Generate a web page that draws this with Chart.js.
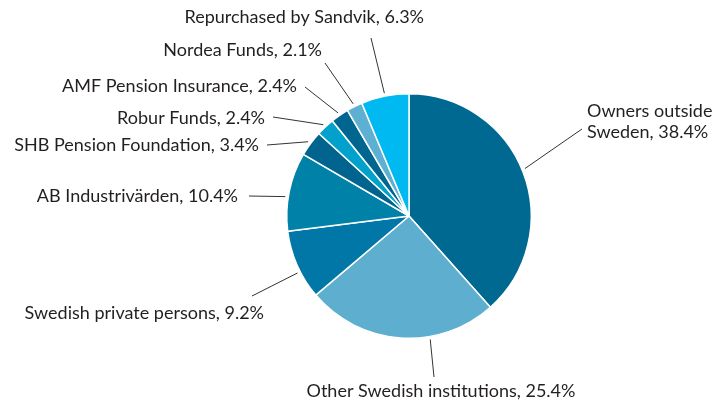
<!DOCTYPE html>
<html>
<head>
<meta charset="utf-8">
<script src="https://cdn.jsdelivr.net/npm/chart.js@4/dist/chart.umd.min.js"></script>
<style>
  html, body { margin: 0; padding: 0; background: #fff; }
  #wrap { width: 720px; height: 400px; }
</style>
</head>
<body>
<div id="wrap"><canvas id="ownersChart" width="720" height="400"></canvas></div>
<script>
// shareholders, clockwise from 12 o'clock
const owners = [
  ['Owners outside', 'Sweden, 38.4%'],
  'Other Swedish institutions, 25.4%',
  'Swedish private persons, 9.2%',
  'AB Industrivärden, 10.4%',
  'SHB Pension Foundation, 3.4%',
  'Robur Funds, 2.4%',
  'AMF Pension Insurance, 2.4%',
  'Nordea Funds, 2.1%',
  'Repurchased by Sandvik, 6.3%'
];
const shares = [38.4, 25.4, 9.2, 10.4, 3.4, 2.4, 2.4, 2.1, 6.3];
const sliceColors = ['#006991', '#5eaecf', '#0077a6', '#0082a8', '#00648e',
                     '#00a2cb', '#00658f', '#5eb0d2', '#00b9f0'];

// label text anchor, leader line end, and where on the slice the line starts (0..1)
const labelLayout = [
  { x: 587, y: 111, align: 'left',   ex: 582, ey: 129, at: 0.49 },
  { x: 441, y: 391, align: 'center', ex: 434, ey: 377, at: 0.35 },
  { x: 264, y: 313, align: 'right',  ex: 252, ey: 296, at: 0.4 },
  { x: 238, y: 196, align: 'right',  ex: 249, ey: 196, at: 0.43 },
  { x: 259, y: 145, align: 'right',  ex: 267, ey: 145, at: 0.5 },
  { x: 265, y: 118, align: 'right',  ex: 273, ey: 117, at: 0.5 },
  { x: 297, y: 86,  align: 'right',  ex: 305, ey: 87,  at: 0.5 },
  { x: 322, y: 50,  align: 'right',  ex: 325, ey: 63,  at: 0.5 },
  { x: 424, y: 17,  align: 'right',  ex: 371, ey: 38,  at: 0.5 }
];

const leaderLabels = {
  id: 'leaderLabels',
  afterDatasetsDraw(chart) {
    const ctx = chart.ctx;
    const arcs = chart.getDatasetMeta(0).data;
    ctx.save();
    ctx.strokeStyle = '#333333';
    ctx.lineWidth = 1;
    ctx.fillStyle = '#231f20';
    ctx.font = '18px Lato, "Open Sans", sans-serif';
    ctx.textBaseline = 'middle';
    arcs.forEach((arc, i) => {
      const p = arc.getProps(['x', 'y', 'startAngle', 'endAngle', 'outerRadius'], true);
      const l = labelLayout[i];
      const a = p.startAngle + (p.endAngle - p.startAngle) * l.at;
      const r = p.outerRadius + 3;
      ctx.beginPath();
      ctx.moveTo(p.x + Math.cos(a) * r, p.y + Math.sin(a) * r);
      ctx.lineTo(l.ex, l.ey);
      ctx.stroke();
      ctx.textAlign = l.align;
      const lines = Array.isArray(owners[i]) ? owners[i] : [owners[i]];
      lines.forEach((t, k) => ctx.fillText(t, l.x, l.y + k * 21));
    });
    ctx.restore();
  }
};

const ctx = document.getElementById('ownersChart').getContext('2d');
const ownersChart = new Chart(ctx, {
  type: 'pie',
  data: {
    labels: owners.map(o => Array.isArray(o) ? o.join(' ') : o),
    datasets: [{
      data: shares,
      backgroundColor: sliceColors,
      borderColor: '#ffffff',
      borderWidth: 1.5
    }]
  },
  options: {
    responsive: false,
    animation: false,
    layout: { padding: { left: 286, right: 188, top: 93, bottom: 61 } },
    plugins: {
      legend: { display: false },
      tooltip: { enabled: false }
    }
  },
  plugins: [leaderLabels]
});
</script>
</body>
</html>
